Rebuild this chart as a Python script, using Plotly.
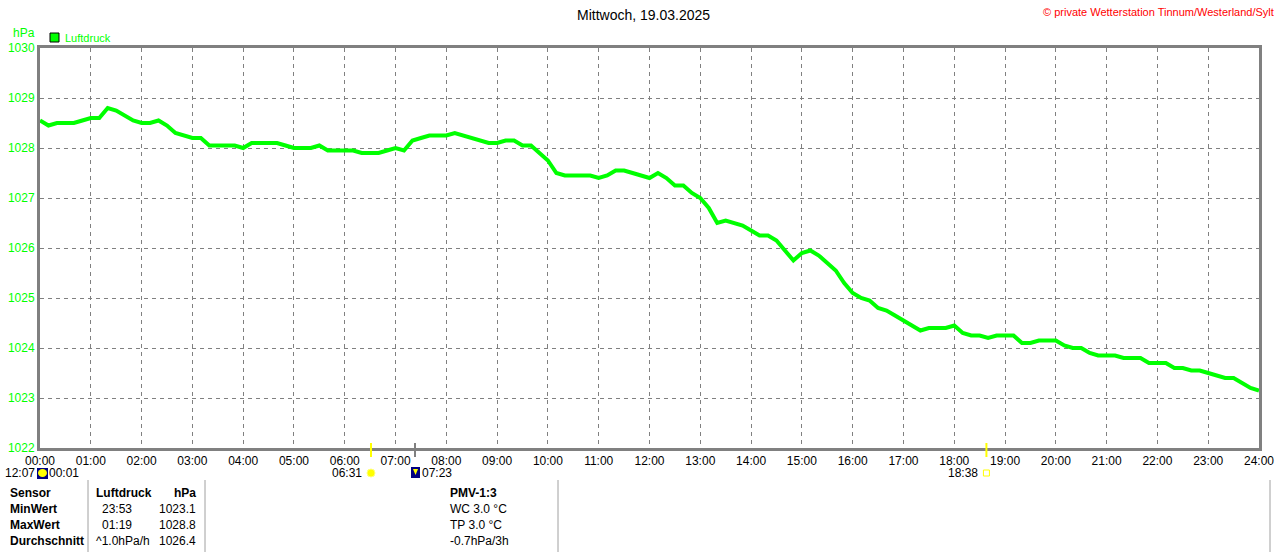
import plotly.graph_objects as go

# Luftdruck (hPa) every 10 minutes, 00:00 .. 24:00
pressure = [
    1028.55, 1028.45, 1028.5, 1028.5, 1028.5, 1028.55,   # 00:00-00:50
    1028.6, 1028.6, 1028.8, 1028.75, 1028.65, 1028.55,   # 01
    1028.5, 1028.5, 1028.55, 1028.45, 1028.3, 1028.25,   # 02
    1028.2, 1028.2, 1028.05, 1028.05, 1028.05, 1028.05,  # 03
    1028.0, 1028.1, 1028.1, 1028.1, 1028.1, 1028.05,     # 04
    1028.0, 1028.0, 1028.0, 1028.05, 1027.95, 1027.95,   # 05
    1027.95, 1027.95, 1027.9, 1027.9, 1027.9, 1027.95,   # 06
    1028.0, 1027.95, 1028.15, 1028.2, 1028.25, 1028.25,  # 07
    1028.25, 1028.3, 1028.25, 1028.2, 1028.15, 1028.1,   # 08
    1028.1, 1028.15, 1028.15, 1028.05, 1028.05, 1027.9,  # 09
    1027.75, 1027.5, 1027.45, 1027.45, 1027.45, 1027.45, # 10
    1027.4, 1027.45, 1027.55, 1027.55, 1027.5, 1027.45,  # 11
    1027.4, 1027.5, 1027.4, 1027.25, 1027.25, 1027.1,    # 12
    1027.0, 1026.8, 1026.5, 1026.55, 1026.5, 1026.45,    # 13
    1026.35, 1026.25, 1026.25, 1026.15, 1025.95, 1025.75, # 14
    1025.9, 1025.95, 1025.85, 1025.7, 1025.55, 1025.3,   # 15
    1025.1, 1025.0, 1024.95, 1024.8, 1024.75, 1024.65,   # 16
    1024.55, 1024.45, 1024.35, 1024.4, 1024.4, 1024.4,   # 17
    1024.45, 1024.3, 1024.25, 1024.25, 1024.2, 1024.25,  # 18
    1024.25, 1024.25, 1024.1, 1024.1, 1024.15, 1024.15,  # 19
    1024.15, 1024.05, 1024.0, 1024.0, 1023.9, 1023.85,   # 20
    1023.85, 1023.85, 1023.8, 1023.8, 1023.8, 1023.7,    # 21
    1023.7, 1023.7, 1023.6, 1023.6, 1023.55, 1023.55,    # 22
    1023.5, 1023.45, 1023.4, 1023.4, 1023.3, 1023.2,     # 23
    1023.15,                                             # 24:00
]
hours = [i / 6 for i in range(len(pressure))]

hour_labels = ['%02d:00' % h for h in range(25)]

# sunrise / moon / sunset events below the axis
event_times = ['06:31', '07:23', '18:38']
event_colors = ['#ffff00', '#808080', '#ffff00']

table_rows = ['Sensor', 'MinWert', 'MaxWert', 'Durchschnitt']
table_col2 = ['Luftdruck', '23:53', '01:19', '^1.0hPa/h']
table_col3 = ['hPa', '1023.1', '1028.8', '1026.4']
pmv_lines = ['PMV-1:3', 'WC 3.0 °C', 'TP 3.0 °C', '-0.7hPa/3h']

GREEN = '#00ff00'
GRAY = '#808080'
FONT = 'Liberation Sans, Arial, sans-serif'

# plot area in pixels
L, R, T, B = 40, 1259, 48, 448


def px(x):
    return (x - L) / (R - L)


def py(y):
    return (B - y) / (B - T)


def to_h(s):
    h, m = s.split(':')
    return int(h) + int(m) / 60


def label(text, x, y, anchor='left', color='black', size=12):
    return dict(text=text, xref='paper', yref='paper', x=px(x), y=py(y),
                xanchor=anchor, yanchor='middle', showarrow=False,
                font=dict(color=color, size=size, family=FONT))


fig = go.Figure()
fig.add_trace(go.Scatter(
    x=hours, y=pressure, mode='lines', name='Luftdruck',
    line=dict(color=GREEN, width=4), showlegend=False,
))

shapes = []
annotations = []

# legend box + headers
shapes.append(dict(type='rect', xref='paper', yref='paper',
                   x0=px(50), x1=px(59), y0=py(42), y1=py(33),
                   fillcolor=GREEN, line=dict(color='black', width=1)))
annotations.append(label('Luftdruck', 63, 38, color=GREEN, size=11))
annotations.append(label('hPa', 11, 33, color=GREEN))
annotations.append(label('Mittwoch, 19.03.2025', 643, 15, anchor='center', size=14))
annotations.append(label('© private Wetterstation Tinnum/Westerland/Sylt', 1276, 12,
                         anchor='right', color='red', size=11))

# event tick marks on the time axis
for t, c in zip(event_times, event_colors):
    xp = to_h(t) / 24
    shapes.append(dict(type='line', xref='paper', yref='paper', x0=xp, x1=xp,
                       y0=py(443), y1=py(457), line=dict(color=c, width=2)))

# moon icon 12:07 / 00:01
shapes.append(dict(type='rect', xref='paper', yref='paper', x0=px(37), x1=px(48),
                   y0=py(479), y1=py(468), fillcolor='#000080', line=dict(width=0)))
shapes.append(dict(type='circle', xref='paper', yref='paper', x0=px(38), x1=px(47),
                   y0=py(477), y1=py(469), fillcolor='#ffff00', line=dict(width=0)))
annotations.append(label('12:07', 37, 473, anchor='right'))
annotations.append(label('00:01', 47, 473))

# sunrise 06:31
xs = to_h(event_times[0]) / 24 * (R - L) + L
shapes.append(dict(type='circle', xref='paper', yref='paper', x0=px(xs - 4), x1=px(xs + 4),
                   y0=py(477), y1=py(469), fillcolor='#ffff00', line=dict(color='#ffff80', width=1)))
annotations.append(label(event_times[0], xs - 7, 473, anchor='right'))

# moonset 07:23
xm = to_h(event_times[1]) / 24 * (R - L) + L
shapes.append(dict(type='rect', xref='paper', yref='paper', x0=px(xm - 4), x1=px(xm + 5),
                   y0=py(478), y1=py(467), fillcolor='#000080', line=dict(width=0)))
shapes.append(dict(type='path', xref='paper', yref='paper',
                   path='M %f %f L %f %f L %f %f Z' % (px(xm - 2), py(469), px(xm + 3), py(469),
                                                       px(xm + 0.5), py(475)),
                   fillcolor='#ffff00', line=dict(width=0)))
annotations.append(label(event_times[1], xm + 5, 473))

# sunset 18:38
xe = to_h(event_times[2]) / 24 * (R - L) + L
shapes.append(dict(type='rect', xref='paper', yref='paper', x0=px(xe - 3), x1=px(xe + 3),
                   y0=py(476), y1=py(470), fillcolor='white', line=dict(color='#ffff00', width=1)))
annotations.append(label(event_times[2], xe - 6, 473, anchor='right'))

# table separators
for xsep in [88, 205, 558, 1270]:
    shapes.append(dict(type='line', xref='paper', yref='paper', x0=px(xsep), x1=px(xsep),
                       y0=py(480), y1=py(552), line=dict(color='#a0a0a0', width=1)))

row_y = [493, 509, 525, 541]
for i, yy in enumerate(row_y):
    bold = (lambda s: '<b>%s</b>' % s) if i == 0 else (lambda s: s)
    annotations.append(label('<b>%s</b>' % table_rows[i], 8, yy))
    annotations.append(label(bold(table_col2[i]), 94 if i in (0, 3) else 100, yy))
    annotations.append(label(bold(table_col3[i]), 198, yy, anchor='right'))
    annotations.append(label(bold(pmv_lines[i]), 448, yy))

fig.update_layout(
    width=1280, height=552,
    margin=dict(l=L, r=1280 - R, t=T, b=552 - B),
    paper_bgcolor='white', plot_bgcolor='white',
    shapes=shapes, annotations=annotations,
    font=dict(family=FONT, size=12, color='black'),
)
fig.update_xaxes(
    range=[0, 24], tickvals=list(range(25)), ticktext=hour_labels,
    showgrid=True, gridcolor=GRAY, gridwidth=1, griddash='4px,4px',
    showline=True, linecolor=GRAY, linewidth=3, mirror=True, automargin=False,
    ticks='', zeroline=False, tickfont=dict(color='black', size=12, family=FONT),
)
fig.update_yaxes(
    range=[1022, 1030], dtick=1, tickformat='d',
    showgrid=True, gridcolor=GRAY, gridwidth=1, griddash='4px,4px',
    showline=True, linecolor=GRAY, linewidth=3, mirror=True, automargin=False,
    ticks='', zeroline=False, tickfont=dict(color=GREEN, size=12, family=FONT),
)

fig.write_html('out.html', config={'displayModeBar': False},
               post_script="document.body.style.margin='0';")
